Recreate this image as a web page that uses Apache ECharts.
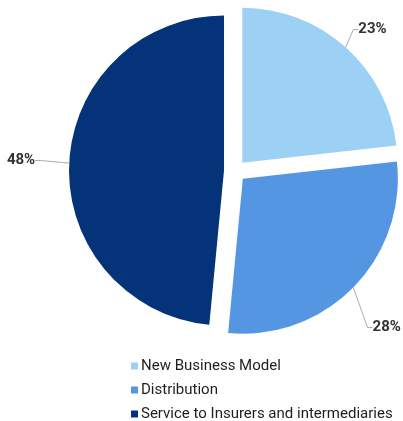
<!DOCTYPE html>
<html>
<head>
<meta charset="utf-8">
<script src="https://cdn.jsdelivr.net/npm/echarts@6/dist/echarts.min.js"></script>
<style>
  html, body { margin: 0; padding: 0; background: #ffffff; }
  #chart { width: 403px; height: 421px; }
</style>
</head>
<body>
<div id="chart"></div>
<script>
// Share of activity by segment (percent)
const categories = ['New Business Model', 'Distribution', 'Service to Insurers and intermediaries'];
const shares = [23, 28, 48];
const colors = ['#9dd0f5', '#5596e3', '#04337a'];

const chart = echarts.init(document.getElementById('chart'), null, { renderer: 'canvas' });

// Exploded pie: every slice is drawn by its own pie series whose centre is
// pushed outwards along the slice's mid angle.
const baseCenter = [235, 171];
const explode = 11;
const total = shares.reduce((a, b) => a + b, 0);

// Nudges applied to the outside labels (pixels); the guide line follows the label.
const labelNudge = [[-3, -8], [3, 31], [-14, -2]];

const series = categories.map((name, k) => {
  const before = shares.slice(0, k).reduce((a, b) => a + b, 0);
  const mid = (before + shares[k] / 2) / total * Math.PI * 2;   // clockwise from 12 o'clock
  return {
    type: 'pie',
    name: name,
    center: [baseCenter[0] + explode * Math.sin(mid), baseCenter[1] - explode * Math.cos(mid)],
    radius: 155,
    startAngle: 90,
    clockwise: true,
    silent: true,
    emphasis: { disabled: true },
    label: {
      show: true,
      position: 'outside',
      formatter: '{c}%',
      fontFamily: 'Roboto',
      fontWeight: 'bold',
      fontSize: 15,
      color: '#333333',
      overflow: 'none',
      bleedMargin: 0,
      distanceToLabelLine: 2
    },
    labelLine: {
      show: true,
      length: 13,
      length2: 5,
      lineStyle: { color: '#aaaaaa', width: 1 }
    },
    labelLayout: function (p) {
      const r = p.labelRect;
      const n = labelNudge[p.dataIndex];
      const onLeft = p.align === 'right';
      return {
        x: (onLeft ? r.x + r.width : r.x) + n[0],
        y: r.y + r.height / 2 + n[1]
      };
    },
    data: categories.map((c, i) => i === k
      ? { name: c, value: shares[i], itemStyle: { color: colors[i] } }
      : {
          name: c, value: shares[i],
          itemStyle: { color: 'rgba(0,0,0,0)' },
          label: { show: false },
          labelLine: { show: false }
        })
  };
});

chart.setOption({
  animation: false,
  legend: {
    orient: 'vertical',
    left: 131,
    top: 357,
    padding: 0,
    height: 80,
    itemWidth: 7,
    itemHeight: 7,
    itemGap: 6,
    icon: 'rect',
    selectedMode: false,
    textStyle: {
      fontFamily: 'Roboto',
      fontSize: 15,
      color: '#1e1e1e',
      lineHeight: 18,
      padding: [0, 0, 0, -2]
    },
    data: categories.map((c, i) => ({ name: c, itemStyle: { color: colors[i] } }))
  },
  series: series
});
</script>
</body>
</html>
